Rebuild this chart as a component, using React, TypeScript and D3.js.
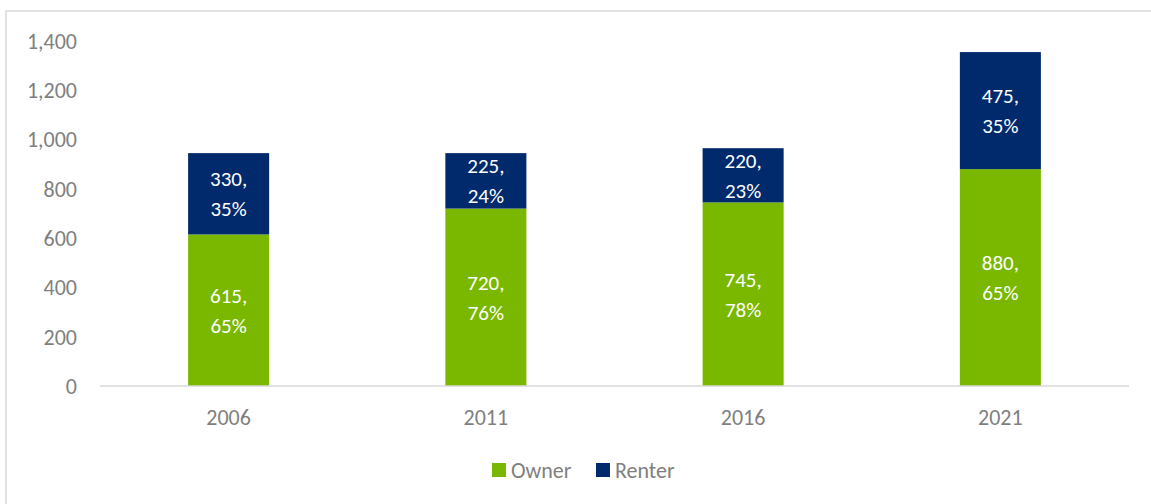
import React from "react";
import * as d3 from "d3";

const years = ["2006", "2011", "2016", "2021"];
const owner = [615, 720, 745, 880];
const renter = [330, 225, 220, 475];
const ownerPct = ["65%", "76%", "78%", "65%"];
const renterPct = ["35%", "24%", "23%", "35%"];
const yTicks = [0, 200, 400, 600, 800, 1000, 1200, 1400];
const seriesNames = ["Owner", "Renter"];
const colors = ["#7AB800", "#002A6C"];

const W = 1151;
const H = 504;
const FONT = "Carlito, Calibri, Lato, sans-serif";

export default function App() {
  const x = d3.scaleBand<string>().domain(years).range([100, 1129]).paddingInner(0.685).paddingOuter(0.3425);
  const y = d3.scaleLinear().domain([0, 1400]).range([386, 41]);
  const fmt = d3.format(",");
  const lfs = 21;
  const base = lfs * 0.36;
  return (
    <svg width={W} height={H} style={{ position: "fixed", left: 0, top: 0, background: "#fff" }} fontFamily={FONT}>
      <rect x={6} y={11} width={W + 10} height={H + 10} fill="none" stroke="#d9d9d9" strokeWidth={1.5} />
      {yTicks.map((t) => (
        <text key={t} x={77} y={y(t)} dy="0.36em" textAnchor="end" fontSize={22} fill="#7f7f7f">
          {fmt(t)}
        </text>
      ))}
      {years.map((yr, i) => {
        const bx = x(yr)!;
        const bw = x.bandwidth();
        const o = owner[i];
        const r = renter[i];
        const oc = (y(0) + y(o)) / 2;
        const rc = (y(o) + y(o + r)) / 2;
        const cx = bx + bw / 2;
        return (
          <g key={yr}>
            <rect x={bx} y={y(o)} width={bw} height={y(0) - y(o)} fill={colors[0]} />
            <rect x={bx} y={y(o + r)} width={bw} height={y(o) - y(o + r)} fill={colors[1]} />
            <text textAnchor="middle" fontSize={lfs} fill="#fff">
              <tspan x={cx} y={oc - 15 + base}>{o + ","}</tspan>
              <tspan x={cx} y={oc + 15 + base}>{ownerPct[i]}</tspan>
            </text>
            <text textAnchor="middle" fontSize={lfs} fill="#fff">
              <tspan x={cx} y={rc - 15 + base}>{r + ","}</tspan>
              <tspan x={cx} y={rc + 15 + base}>{renterPct[i]}</tspan>
            </text>
            <text x={cx} y={417} dy="0.36em" textAnchor="middle" fontSize={22} fill="#7f7f7f">
              {yr}
            </text>
          </g>
        );
      })}
      <line x1={100} x2={1129} y1={y(0)} y2={y(0)} stroke="#d9d9d9" strokeWidth={1.5} />
      <g>
        <rect x={492} y={463} width={14} height={14} fill={colors[0]} />
        <text x={511} y={470} dy="0.36em" fontSize={22} fill="#7f7f7f">{seriesNames[0]}</text>
        <rect x={596} y={463} width={14} height={14} fill={colors[1]} />
        <text x={615} y={470} dy="0.36em" fontSize={22} fill="#7f7f7f">{seriesNames[1]}</text>
      </g>
    </svg>
  );
}
